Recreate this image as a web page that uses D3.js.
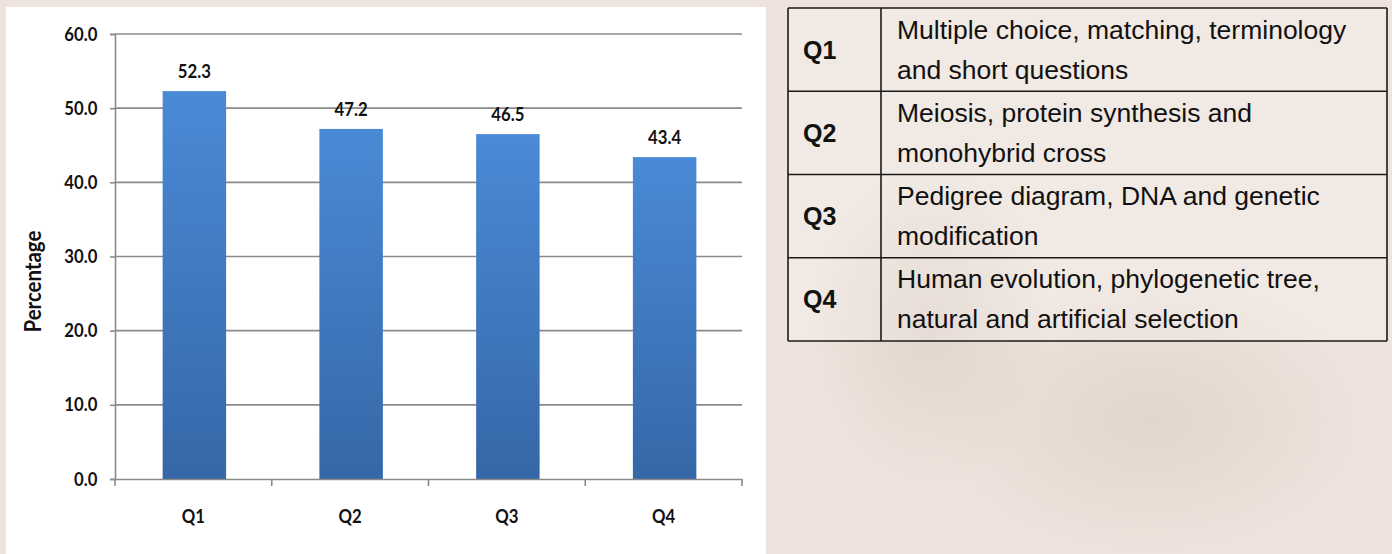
<!DOCTYPE html>
<html>
<head>
<meta charset="utf-8">
<script src="https://cdn.jsdelivr.net/npm/d3@7"></script>
<style>
  html, body { margin: 0; padding: 0; background: #ede3dc; }
  svg { display: block; }
</style>
</head>
<body>
<svg id="chart" width="1392" height="554"></svg>
<script>
// ---- data ----
const categories = ["Q1", "Q2", "Q3", "Q4"];
const percentages = [52.3, 47.2, 46.5, 43.4];
const yTicks = [0, 10, 20, 30, 40, 50, 60];
const yLabel = "Percentage";
const tableLabels = ["Q1", "Q2", "Q3", "Q4"];
const tableLines = [
  ["Multiple choice, matching, terminology", "and short questions"],
  ["Meiosis, protein synthesis and", "monohybrid cross"],
  ["Pedigree diagram, DNA and genetic", "modification"],
  ["Human evolution, phylogenetic tree,", "natural and artificial selection"]
];

const svg = d3.select("#chart");
const defs = svg.append("defs");

// background texture (soft photo-like patches)
const bgGrad = defs.append("radialGradient").attr("id", "bgPatch");
bgGrad.append("stop").attr("offset", "0%").attr("stop-color", "#d9ccc3").attr("stop-opacity", 0.6);
bgGrad.append("stop").attr("offset", "100%").attr("stop-color", "#d9ccc3").attr("stop-opacity", 0);
svg.append("rect").attr("width", 1392).attr("height", 554).attr("fill", "#eee4dd");
svg.append("ellipse").attr("cx", 1150).attr("cy", 420).attr("rx", 220).attr("ry", 140).attr("fill", "url(#bgPatch)");
svg.append("ellipse").attr("cx", 930).attr("cy", 330).attr("rx", 120).attr("ry", 160).attr("fill", "url(#bgPatch)");

// white chart panel
svg.append("rect").attr("x", 6).attr("y", 7).attr("width", 760).attr("height", 547).attr("fill", "#ffffff");

// bar gradient
const g1 = defs.append("linearGradient").attr("id", "barGrad").attr("x1", 0).attr("y1", 0).attr("x2", 0).attr("y2", 1);
g1.append("stop").attr("offset", "0%").attr("stop-color", "#4a8ad6");
g1.append("stop").attr("offset", "100%").attr("stop-color", "#3667a7");

// ---- scales ----
const plot = { left: 115, right: 742, top: 34, bottom: 479 };
const x = d3.scaleBand().domain(categories).range([plot.left, plot.right]).padding(0);
const y = d3.scaleLinear().domain([0, 60]).range([plot.bottom, plot.top]);

const chart = svg.append("g");
const axisFont = "Lato, 'Open Sans', sans-serif";
const squeeze = 0.88;

// gridlines
chart.append("g").selectAll("line").data(yTicks.filter(d => d > 0)).join("line")
  .attr("x1", plot.left).attr("x2", plot.right)
  .attr("y1", d => y(d)).attr("y2", d => y(d))
  .attr("stroke", "#8a8a8a").attr("stroke-width", 1.6);

// y axis
const yAxis = d3.axisLeft(y).tickValues(yTicks).tickSize(5).tickPadding(15)
  .tickFormat(d => d3.format(".1f")(d));
const yG = chart.append("g").attr("transform", `translate(${plot.left},0)`).call(yAxis);
yG.select(".domain").attr("stroke", "#8a8a8a").attr("stroke-width", 1.6);
yG.selectAll(".tick line").attr("stroke", "#8a8a8a").attr("stroke-width", 1.6);
yG.selectAll(".tick text").attr("font-family", axisFont).attr("font-weight", 700)
  .attr("font-size", 19).attr("fill", "#111").attr("transform", `scale(${squeeze},1)`);

// bars
const barW = x.bandwidth() * 0.405;
chart.append("g").selectAll("rect").data(percentages).join("rect")
  .attr("x", (d, i) => x(categories[i]) + x.bandwidth() / 2 - barW / 2 + 1)
  .attr("y", d => y(d))
  .attr("width", barW)
  .attr("height", d => y(0) - y(d))
  .attr("fill", "url(#barGrad)");

// value labels
chart.append("g").selectAll("g").data(percentages).join("g")
  .attr("transform", (d, i) => `translate(${x(categories[i]) + x.bandwidth() / 2 + 1},${y(d) - 13}) scale(${squeeze},1)`)
  .append("text")
  .attr("text-anchor", "middle")
  .attr("font-family", axisFont).attr("font-weight", 700).attr("font-size", 19).attr("fill", "#111")
  .text(d => d.toFixed(1));

// x axis
const xAxis = d3.axisBottom(x).tickSize(0).tickPadding(31);
const xG = chart.append("g").attr("transform", `translate(0,${plot.bottom})`).call(xAxis);
xG.select(".domain").attr("stroke", "#8a8a8a").attr("stroke-width", 1.6);
xG.selectAll(".tick text").attr("font-family", axisFont).attr("font-weight", 700)
  .attr("font-size", 19).attr("fill", "#111").attr("transform", `scale(${squeeze},1)`);
// category boundary ticks
const bounds = categories.map(c => x(c)).concat([plot.right]);
xG.append("g").selectAll("line").data(bounds).join("line")
  .attr("x1", d => d).attr("x2", d => d).attr("y1", 0).attr("y2", 7)
  .attr("stroke", "#8a8a8a").attr("stroke-width", 1.6);

// y label
chart.append("text")
  .attr("transform", `translate(41,${(y(20) + y(30)) / 2 - 12}) rotate(-90) scale(0.93,1)`)
  .attr("text-anchor", "middle")
  .attr("font-family", axisFont).attr("font-weight", 700).attr("font-size", 22).attr("fill", "#111")
  .text(yLabel);

// ---- table ----
const tbl = { left: 788, right: 1387, top: 8, mid: 881 };
const rowY = d3.scaleBand().domain(tableLabels).range([tbl.top, 341]).padding(0);
const tg = svg.append("g");
tg.append("rect").attr("x", tbl.left).attr("y", tbl.top)
  .attr("width", tbl.right - tbl.left).attr("height", 341 - tbl.top)
  .attr("fill", "#ffffff").attr("fill-opacity", 0.18);

const rows = tg.selectAll("g.row").data(tableLabels).join("g").attr("class", "row");
rows.append("text")
  .attr("x", tbl.left + 15)
  .attr("y", d => rowY(d) + rowY.bandwidth() / 2 + 9)
  .attr("font-family", "'Liberation Sans', Arial, sans-serif").attr("font-weight", 700)
  .attr("font-size", 25).attr("fill", "#111")
  .text(d => d);
rows.each(function (d, i) {
  const sel = d3.select(this);
  tableLines[i].forEach((ln, k) => {
    sel.append("text")
      .attr("x", tbl.mid + 16)
      .attr("y", rowY(d) + rowY.bandwidth() / 2 + (k === 0 ? -20 : 20) + 9)
      .attr("font-family", "'Liberation Sans', Arial, sans-serif")
      .attr("font-size", 26.5).attr("fill", "#111")
      .text(ln);
  });
});
// grid lines of table
const hLines = tableLabels.map(d => rowY(d)).concat([341]);
tg.selectAll("line.h").data(hLines).join("line").attr("class", "h")
  .attr("x1", tbl.left).attr("x2", tbl.right).attr("y1", d => d).attr("y2", d => d)
  .attr("stroke", "#1a1a1a").attr("stroke-width", 1.6);
tg.selectAll("line.v").data([tbl.left, tbl.mid, tbl.right]).join("line").attr("class", "v")
  .attr("x1", d => d).attr("x2", d => d).attr("y1", tbl.top).attr("y2", 341)
  .attr("stroke", "#1a1a1a").attr("stroke-width", 1.6);
</script>
</body>
</html>
